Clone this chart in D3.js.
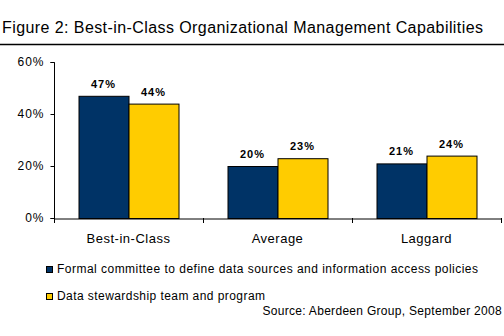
<!DOCTYPE html>
<html>
<head>
<meta charset="utf-8">
<script src="https://cdn.jsdelivr.net/npm/d3@7"></script>
<style>
body { margin: 0; background: #fff; }
text { font-family: "Liberation Sans", Arial, sans-serif; }
</style>
</head>
<body>
<svg id="svg1"></svg>
<script>
const width = 504;
const height = 336;

const categories = ["Best-in-Class", "Average", "Laggard"];
const seriesNames = ["Formal committee to define data sources and information access policies", "Data stewardship team and program"];
const committee = [47, 20, 21];
const stewardship = [44, 23, 24];
const yTicks = [0, 20, 40, 60];
const colors = ["#003366", "#ffcc00"];

const svg = d3.select("#svg1")
  .attr("width", width)
  .attr("height", height);

svg.append("rect").attr("width", width).attr("height", height).attr("fill", "#fff");

// title + rule
svg.append("text")
  .attr("x", 2).attr("y", 33)
  .attr("font-size", "16px")
  .attr("textLength", 481).attr("lengthAdjust", "spacing")
  .text("Figure 2: Best-in-Class Organizational Management Capabilities");
svg.append("line")
  .attr("x1", 0).attr("x2", width).attr("y1", 44.5).attr("y2", 44.5)
  .attr("stroke", "#000").attr("stroke-width", 1.5);

const x = d3.scaleBand().domain(categories).range([54, 501]);
const x1 = d3.scaleBand().domain([0, 1]).range([0, 100]);
const y = d3.scaleLinear().domain([0, 60]).range([218, 62]);

// y axis
const yAxis = svg.append("g")
  .attr("transform", "translate(54.5,0)")
  .call(d3.axisLeft(y).tickValues(yTicks).tickSize(4).tickFormat(d => d + "%"));
yAxis.select(".domain").attr("d", "M-4," + (y(60) + 0.5) + "H0V" + (y(0) + 0.5) + "H-4");
yAxis.selectAll(".tick line").attr("stroke", "#000");
yAxis.selectAll(".tick text")
  .attr("x", -10)
  .attr("font-family", "Liberation Sans, Arial, sans-serif")
  .attr("font-size", "12px")
  .attr("letter-spacing", "1px")
  .attr("fill", "#000");

// bars
const series = [committee, stewardship];
const groups = svg.selectAll("g.grp")
  .data(categories)
  .join("g")
  .attr("class", "grp")
  .attr("transform", d => "translate(" + (x(d) + x.bandwidth() / 2 - 50) + ",0)");

groups.selectAll("rect")
  .data((d, i) => series.map((s, k) => ({ k: k, v: s[i] })))
  .join("rect")
  .attr("x", d => x1(d.k) + 0.5)
  .attr("y", d => y(d.v) + 0.5)
  .attr("width", x1.bandwidth())
  .attr("height", d => y(0) - y(d.v))
  .attr("fill", d => colors[d.k])
  .attr("stroke", "#000")
  .attr("stroke-width", 1);

groups.selectAll("text")
  .data((d, i) => series.map((s, k) => ({ k: k, v: s[i] })))
  .join("text")
  .attr("x", d => x1(d.k) + x1.bandwidth() / 2)
  .attr("y", d => y(d.v) - 8)
  .attr("text-anchor", "middle")
  .attr("font-size", "11px")
  .attr("font-weight", "bold")
  .attr("letter-spacing", "1px")
  .text(d => d.v + "%");

// x axis
const xAxis = svg.append("g")
  .attr("transform", "translate(0," + (y(0) + 0.5) + ")")
  .call(d3.axisBottom(x).tickSize(0).tickSizeOuter(0));
xAxis.select(".domain").attr("stroke", "#000");
xAxis.selectAll(".tick text")
  .attr("y", 24)
  .attr("dy", 0)
  .attr("font-family", "Liberation Sans, Arial, sans-serif")
  .attr("font-size", "13px")
  .attr("letter-spacing", "0.5px")
  .attr("fill", "#000");
svg.selectAll("line.sep")
  .data(categories.concat(["end"]))
  .join("line")
  .attr("class", "sep")
  .attr("x1", (d, i) => (i < 3 ? x(d) : x.range()[1]) + 0.5)
  .attr("x2", (d, i) => (i < 3 ? x(d) : x.range()[1]) + 0.5)
  .attr("y1", y(0)).attr("y2", y(0) + 5)
  .attr("stroke", "#000");

// legend
const legendW = [421, 208];
const leg = svg.selectAll("g.leg")
  .data(seriesNames)
  .join("g")
  .attr("class", "leg")
  .attr("transform", (d, i) => "translate(45," + (265 + i * 27) + ")");
leg.append("rect")
  .attr("x", 1.5).attr("y", 1.5).attr("width", 6).attr("height", 6)
  .attr("fill", (d, i) => colors[i])
  .attr("stroke", "#000");
leg.append("text")
  .attr("x", 12).attr("y", 8)
  .attr("font-size", "12px")
  .attr("textLength", (d, i) => legendW[i]).attr("lengthAdjust", "spacing")
  .text(d => d);

svg.append("text")
  .attr("x", 502).attr("y", 315)
  .attr("text-anchor", "end")
  .attr("font-size", "12px")
  .attr("letter-spacing", "0.3px")
  .text("Source: Aberdeen Group, September 2008");
</script>
</body>
</html>
